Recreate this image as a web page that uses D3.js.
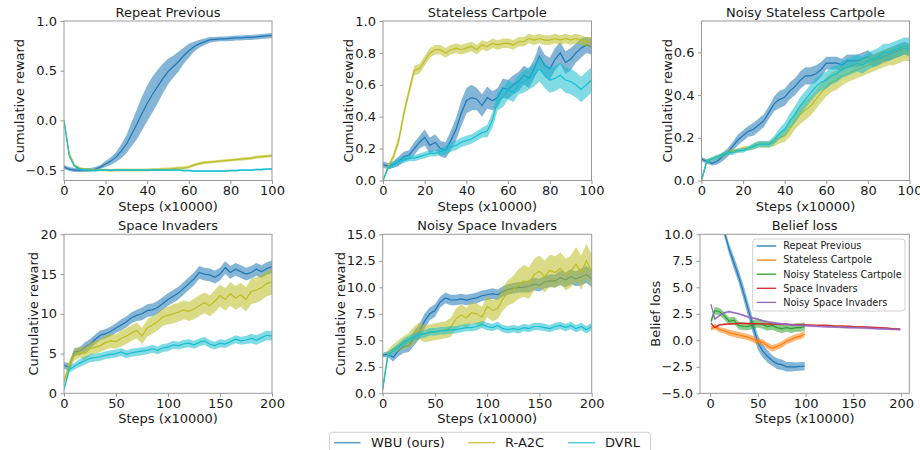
<!DOCTYPE html>
<html><head><meta charset="utf-8">
<script src="https://cdn.jsdelivr.net/npm/d3@7"></script>
<style>body{margin:0;background:#fff}svg{font-family:"DejaVu Sans",sans-serif}</style>
</head><body>
<svg id="c" width="920" height="450"></svg>
<script>
// ---------- data ----------
const methods = ["WBU (ours)", "R-A2C", "DVRL"];
const beliefNames = ["Repeat Previous", "Stateless Cartpole", "Noisy Stateless Cartpole", "Space Invaders", "Noisy Space Invaders"];

const steps100 = [0,2.5,5,7.5,10,12.5,15,17.5,20,22.5,25,27.5,30,32.5,35,37.5,40,42.5,45,47.5,50,52.5,55,57.5,60,62.5,65,67.5,70,72.5,75,77.5,80,82.5,85,87.5,90,92.5,95,97.5,100];
const steps200 = [0,5,10,15,20,25,30,35,40,45,50,55,60,65,70,75,80,85,90,95,100,105,110,115,120,125,130,135,140,145,150,155,160,165,170,175,180,185,190,195,200];
const beliefSteps100 = [1,5,10,15,20,25,30,35,40,45,50,55,60,65,70,75,80,85,90,95,99];
const beliefSteps200 = [1,5,10,15,20,25,30,35,40,45,50,55,60,65,70,75,80,85,90,95,100,105,110,115,120,125,130,135,140,145,150,155,160,165,170,175,180,185,190,195,199];

// Repeat Previous
const rpWBU = [-0.47,-0.49,-0.5,-0.5,-0.5,-0.5,-0.49,-0.47,-0.44,-0.41,-0.37,-0.31,-0.24,-0.14,-0.04,0.07,0.17,0.26,0.34,0.42,0.49,0.54,0.59,0.65,0.70,0.74,0.77,0.79,0.81,0.815,0.82,0.82,0.825,0.83,0.83,0.835,0.835,0.84,0.845,0.85,0.855];
const rpWBUerr = [0.02,0.02,0.02,0.02,0.02,0.02,0.02,0.02,0.03,0.04,0.05,0.07,0.09,0.12,0.15,0.17,0.18,0.18,0.17,0.15,0.13,0.11,0.1,0.08,0.07,0.05,0.04,0.035,0.03,0.025,0.025,0.025,0.025,0.025,0.025,0.025,0.025,0.025,0.025,0.025,0.025];
const rpR = [0.0,-0.33,-0.45,-0.48,-0.49,-0.495,-0.5,-0.5,-0.5,-0.505,-0.5,-0.5,-0.5,-0.5,-0.5,-0.5,-0.5,-0.495,-0.495,-0.49,-0.49,-0.485,-0.48,-0.48,-0.47,-0.45,-0.435,-0.425,-0.42,-0.415,-0.41,-0.405,-0.4,-0.395,-0.39,-0.385,-0.38,-0.37,-0.365,-0.36,-0.355];
const rpRerr = [0.01,0.01,0.01,0.01,0.012,0.012,0.012,0.012,0.015,0.015,0.015,0.015,0.015,0.015,0.015,0.015,0.015,0.015,0.015,0.015,0.015,0.015,0.015,0.015,0.015,0.015,0.015,0.015,0.015,0.015,0.015,0.015,0.015,0.015,0.015,0.015,0.015,0.015,0.015,0.015,0.015];
const rpD = [0.0,-0.36,-0.46,-0.49,-0.5,-0.5,-0.505,-0.5,-0.5,-0.5,-0.5,-0.5,-0.5,-0.5,-0.5,-0.5,-0.5,-0.5,-0.5,-0.5,-0.5,-0.5,-0.5,-0.505,-0.505,-0.51,-0.51,-0.51,-0.51,-0.51,-0.51,-0.51,-0.505,-0.505,-0.5,-0.5,-0.5,-0.495,-0.495,-0.49,-0.49];
const rpDerr = [0.01,0.01,0.01,0.01,0.01,0.01,0.01,0.01,0.01,0.01,0.01,0.01,0.01,0.01,0.01,0.01,0.01,0.01,0.01,0.01,0.01,0.01,0.01,0.01,0.01,0.01,0.01,0.01,0.01,0.01,0.01,0.01,0.01,0.01,0.01,0.01,0.01,0.01,0.01,0.01,0.01];

// Stateless Cartpole
const scWBU = [0.1,0.09,0.1,0.12,0.15,0.16,0.2,0.24,0.27,0.22,0.24,0.2,0.19,0.25,0.32,0.42,0.5,0.52,0.51,0.47,0.52,0.5,0.52,0.58,0.57,0.6,0.62,0.66,0.64,0.7,0.78,0.72,0.7,0.76,0.8,0.74,0.76,0.8,0.83,0.85,0.84];
const scWBUerr = [0.02,0.02,0.02,0.03,0.03,0.03,0.04,0.04,0.05,0.05,0.05,0.05,0.05,0.06,0.07,0.08,0.08,0.08,0.07,0.07,0.07,0.06,0.06,0.06,0.06,0.06,0.06,0.06,0.06,0.06,0.07,0.07,0.07,0.07,0.07,0.07,0.07,0.06,0.06,0.05,0.05];
const scR = [0.0,0.09,0.15,0.25,0.42,0.56,0.69,0.7,0.75,0.8,0.82,0.82,0.8,0.82,0.83,0.82,0.83,0.84,0.82,0.85,0.84,0.86,0.85,0.86,0.86,0.85,0.87,0.87,0.89,0.88,0.89,0.88,0.88,0.89,0.88,0.89,0.88,0.89,0.88,0.87,0.87];
const scRerr = [0.01,0.01,0.02,0.03,0.03,0.03,0.03,0.03,0.03,0.03,0.03,0.03,0.03,0.03,0.03,0.03,0.03,0.03,0.03,0.03,0.03,0.03,0.03,0.03,0.03,0.03,0.03,0.03,0.03,0.03,0.03,0.03,0.03,0.03,0.03,0.03,0.03,0.03,0.03,0.03,0.03];
const scD = [0.0,0.08,0.1,0.12,0.13,0.14,0.14,0.15,0.16,0.17,0.17,0.18,0.19,0.21,0.22,0.24,0.25,0.26,0.28,0.3,0.31,0.38,0.5,0.52,0.57,0.55,0.6,0.62,0.64,0.66,0.7,0.66,0.63,0.64,0.66,0.63,0.62,0.6,0.57,0.6,0.63];
const scDerr = [0.01,0.01,0.02,0.02,0.02,0.02,0.02,0.02,0.02,0.02,0.02,0.02,0.03,0.03,0.03,0.03,0.03,0.03,0.03,0.03,0.04,0.05,0.06,0.06,0.06,0.06,0.06,0.07,0.07,0.07,0.08,0.08,0.08,0.08,0.08,0.08,0.08,0.08,0.08,0.08,0.08];

// Noisy Stateless Cartpole
const nscWBU = [0.1,0.09,0.08,0.09,0.11,0.13,0.16,0.19,0.21,0.23,0.24,0.26,0.28,0.32,0.36,0.38,0.39,0.42,0.44,0.47,0.49,0.49,0.5,0.52,0.55,0.55,0.55,0.54,0.56,0.56,0.56,0.57,0.58,0.56,0.57,0.58,0.59,0.6,0.61,0.62,0.61];
const nscWBUerr = [0.01,0.01,0.01,0.015,0.02,0.02,0.02,0.025,0.025,0.025,0.03,0.03,0.03,0.03,0.035,0.04,0.04,0.04,0.04,0.04,0.04,0.04,0.04,0.035,0.03,0.03,0.03,0.03,0.03,0.03,0.03,0.03,0.03,0.03,0.03,0.03,0.03,0.03,0.03,0.03,0.03];
const nscR = [0.0,0.09,0.1,0.11,0.12,0.13,0.14,0.14,0.15,0.15,0.16,0.17,0.17,0.17,0.18,0.2,0.21,0.24,0.28,0.31,0.33,0.35,0.38,0.41,0.44,0.46,0.47,0.49,0.5,0.51,0.52,0.53,0.54,0.55,0.56,0.57,0.58,0.58,0.59,0.6,0.6];
const nscRerr = [0.01,0.01,0.01,0.01,0.01,0.01,0.01,0.01,0.01,0.01,0.015,0.015,0.015,0.015,0.02,0.025,0.03,0.035,0.04,0.045,0.045,0.045,0.045,0.045,0.045,0.045,0.045,0.045,0.04,0.04,0.04,0.04,0.04,0.04,0.04,0.04,0.04,0.04,0.04,0.04,0.04];
const nscD = [0.0,0.09,0.1,0.11,0.12,0.13,0.13,0.14,0.14,0.15,0.16,0.17,0.17,0.17,0.19,0.22,0.24,0.28,0.31,0.35,0.38,0.41,0.44,0.46,0.47,0.49,0.5,0.52,0.53,0.54,0.55,0.54,0.56,0.57,0.58,0.6,0.6,0.61,0.62,0.63,0.63];
const nscDerr = [0.01,0.01,0.01,0.01,0.01,0.01,0.01,0.01,0.01,0.01,0.015,0.015,0.015,0.015,0.02,0.025,0.03,0.035,0.04,0.04,0.04,0.04,0.04,0.04,0.04,0.04,0.04,0.04,0.04,0.04,0.04,0.04,0.04,0.04,0.04,0.04,0.04,0.04,0.04,0.04,0.04];

// Space Invaders
const siWBU = [3.5,3.3,5.2,5.3,5.8,6.2,6.8,7.3,7.5,7.8,8.2,8.6,9.0,9.5,9.8,10.0,10.4,10.5,10.8,11.3,11.8,12.2,12.6,13.2,13.8,14.4,15.2,15.0,14.9,14.6,15.0,15.8,15.2,15.6,15.3,15.0,15.2,15.6,15.3,15.7,15.9];
const siWBUerr = [0.4,0.5,0.5,0.5,0.6,0.6,0.6,0.6,0.6,0.6,0.6,0.7,0.7,0.7,0.7,0.8,0.8,0.8,0.8,0.8,0.8,0.8,0.8,0.8,0.8,0.8,0.8,0.8,0.8,0.8,0.8,0.8,0.8,0.8,0.8,0.8,0.8,0.8,0.8,0.8,0.8];
const siR = [1.5,3.5,4.8,5.2,5.0,5.6,5.8,6.0,6.4,6.6,6.5,6.9,7.2,7.6,7.9,7.2,8.2,8.6,9.0,9.6,9.8,10.0,10.2,10.5,10.3,10.6,11.0,11.4,11.0,11.6,12.3,11.8,12.5,12.0,12.4,11.8,12.8,13.0,13.3,13.8,14.0];
const siRerr = [0.4,0.6,0.7,0.7,0.8,0.8,0.8,0.8,0.9,0.9,0.9,1.0,1.0,1.0,1.0,1.0,1.1,1.1,1.1,1.1,1.1,1.2,1.2,1.2,1.2,1.3,1.3,1.3,1.3,1.4,1.4,1.4,1.5,1.5,1.5,1.5,1.6,1.6,1.6,1.6,1.6];
const siD = [0.5,3.0,3.4,3.8,4.1,4.4,4.5,4.6,4.8,4.9,5.0,5.2,4.9,5.1,5.2,5.3,5.4,5.6,5.4,5.7,5.8,6.1,6.0,6.2,6.3,6.1,6.4,6.6,6.2,6.0,6.3,6.2,6.5,6.8,6.6,6.7,6.9,6.7,7.0,7.3,7.2];
const siDerr = [0.3,0.4,0.4,0.5,0.5,0.5,0.5,0.5,0.5,0.5,0.5,0.5,0.5,0.5,0.5,0.5,0.5,0.5,0.5,0.5,0.5,0.5,0.5,0.5,0.5,0.5,0.5,0.5,0.5,0.5,0.5,0.5,0.5,0.5,0.5,0.5,0.6,0.6,0.6,0.6,0.6];

// Noisy Space Invaders
const nsiWBU = [3.6,3.7,3.4,4.0,4.4,4.5,5.2,5.8,6.8,7.5,7.8,8.6,9.0,8.8,8.8,8.9,8.8,8.9,9.0,9.2,9.3,9.4,9.3,9.6,9.8,9.9,10.0,10.0,10.1,10.3,10.2,10.5,10.6,10.6,10.9,10.7,11.0,10.8,11.0,11.2,10.8];
const nsiWBUerr = [0.2,0.3,0.4,0.5,0.6,0.6,0.7,0.7,0.7,0.6,0.6,0.5,0.5,0.5,0.5,0.5,0.5,0.5,0.5,0.5,0.5,0.5,0.5,0.5,0.5,0.5,0.5,0.5,0.6,0.6,0.6,0.6,0.6,0.6,0.7,0.7,0.7,0.7,0.8,0.8,0.8];
const nsiR = [0.5,3.8,4.2,4.5,4.8,5.0,5.5,5.9,5.6,5.7,5.8,5.9,6.0,6.2,7.0,7.4,7.1,7.6,7.5,7.2,8.2,7.8,8.0,8.9,9.5,9.8,10.3,10.6,10.4,11.2,11.5,11.0,11.6,11.4,11.8,11.2,11.5,12.2,11.4,12.5,11.5];
const nsiRerr = [0.2,0.3,0.4,0.5,0.6,0.7,0.8,0.8,0.8,0.8,0.8,0.8,0.8,0.9,1.0,1.0,1.0,1.0,1.0,1.0,1.0,1.0,1.0,1.1,1.2,1.3,1.4,1.5,1.5,1.5,1.5,1.5,1.5,1.5,1.5,1.5,1.5,1.6,1.6,1.6,1.6];
const nsiD = [0.3,3.6,4.0,4.4,4.8,5.1,5.3,5.5,5.6,5.8,5.8,5.9,5.9,6.0,6.0,6.1,6.2,6.2,6.3,6.5,6.3,6.2,6.4,6.1,6.0,6.1,6.0,6.2,6.1,6.3,6.3,6.2,6.1,6.3,6.4,6.2,6.4,6.1,6.3,6.0,6.3];
const nsiDerr = [0.2,0.3,0.3,0.3,0.35,0.35,0.35,0.35,0.35,0.35,0.35,0.35,0.35,0.35,0.35,0.35,0.35,0.35,0.35,0.35,0.35,0.35,0.35,0.35,0.35,0.35,0.35,0.35,0.35,0.35,0.35,0.35,0.35,0.35,0.35,0.35,0.35,0.35,0.35,0.35,0.35];

// Belief loss
const blRP = [22,17,13,10.2,8.6,7.3,6.0,4.5,2.9,1.3,-0.2,-1.0,-1.5,-1.9,-2.2,-2.3,-2.5,-2.5,-2.5,-2.45,-2.45];
const blRPerr = [0.4,0.4,0.4,0.4,0.5,0.6,0.6,0.7,0.7,0.7,0.7,0.6,0.6,0.5,0.5,0.5,0.45,0.45,0.4,0.4,0.4];
const blSC = [1.1,1.3,1.0,0.9,0.7,0.6,0.5,0.4,0.3,0.1,-0.1,-0.2,-0.5,-0.75,-0.6,-0.4,-0.1,0.1,0.3,0.4,0.6];
const blSCerr = [0.2,0.25,0.25,0.25,0.3,0.3,0.3,0.3,0.3,0.3,0.3,0.3,0.3,0.3,0.3,0.3,0.3,0.3,0.3,0.3,0.3];
const blNSC = [1.8,2.8,2.7,2.3,1.8,1.9,1.4,1.3,1.3,1.5,1.6,1.5,1.3,1.4,1.2,1.1,1.2,1.1,1.2,1.2,1.3];
const blNSCerr = [0.3,0.35,0.35,0.35,0.35,0.35,0.35,0.35,0.35,0.4,0.4,0.4,0.4,0.4,0.4,0.4,0.4,0.4,0.4,0.4,0.4];
const blSI = [1.6,1.2,1.45,1.5,1.55,1.55,1.6,1.6,1.58,1.57,1.56,1.55,1.54,1.53,1.52,1.51,1.5,1.49,1.48,1.47,1.45,1.44,1.42,1.41,1.4,1.38,1.36,1.35,1.33,1.32,1.3,1.28,1.26,1.24,1.22,1.2,1.17,1.14,1.11,1.08,1.06];
const blSIerr = [0.08,0.08,0.08,0.08,0.08,0.08,0.08,0.08,0.08,0.08,0.08,0.08,0.08,0.08,0.08,0.08,0.08,0.08,0.08,0.08,0.08,0.08,0.08,0.08,0.08,0.08,0.08,0.08,0.08,0.08,0.08,0.08,0.08,0.08,0.08,0.08,0.08,0.08,0.08,0.08,0.08];
const blNSI = [3.4,2.0,2.35,2.6,2.7,2.6,2.5,2.35,2.2,2.1,2.0,1.85,1.75,1.65,1.6,1.55,1.5,1.45,1.42,1.4,1.38,1.35,1.33,1.3,1.28,1.26,1.25,1.24,1.22,1.2,1.2,1.18,1.16,1.14,1.12,1.1,1.08,1.06,1.04,1.02,1.0];
const blNSIerr = [0.1,0.1,0.1,0.1,0.1,0.1,0.1,0.1,0.1,0.1,0.1,0.1,0.1,0.1,0.1,0.1,0.1,0.1,0.1,0.1,0.1,0.1,0.1,0.1,0.1,0.1,0.1,0.1,0.1,0.1,0.1,0.1,0.1,0.1,0.1,0.1,0.1,0.1,0.1,0.1,0.1];

const xTicks100 = [0,20,40,60,80,100];
const xTicks200 = [0,50,100,150,200];

// ---------- styling ----------
const C = {blue:"#1f77b4", olive:"#bcbd22", cyan:"#17becf", orange:"#ff7f0e", green:"#2ca02c", red:"#d62728", purple:"#9467bd"};
const methodColors = [C.blue, C.olive, C.cyan];
const beliefColors = [C.blue, C.orange, C.green, C.red, C.purple];
const spine = "#999";
const fs = 13;

const svg = d3.select("#c");

function S(x, y, e, color) { return {x, y, e, color}; }

const panels = [
  {title:"Repeat Previous", ylabel:"Cumulative reward", left:64, top:21, w:208, h:159.5, xd:[0,100], yd:[-0.605,1.0], xt:xTicks100, yt:[-0.5,0,0.5,1.0], yf:".1f", ylx:19,
   series:[S(steps100,rpWBU,rpWBUerr,C.blue),S(steps100,rpR,rpRerr,C.olive),S(steps100,rpD,rpDerr,C.cyan)]},
  {title:"Stateless Cartpole", ylabel:"Cumulative reward", left:383, top:21, w:208.5, h:159.5, xd:[0,100], yd:[0,1.0], xt:xTicks100, yt:[0,0.2,0.4,0.6,0.8,1.0], yf:".1f", ylx:348,
   series:[S(steps100,scWBU,scWBUerr,C.blue),S(steps100,scR,scRerr,C.olive),S(steps100,scD,scDerr,C.cyan)]},
  {title:"Noisy Stateless Cartpole", ylabel:"Cumulative reward", left:701.5, top:21, w:208, h:159.5, xd:[0,100], yd:[0,0.747], xt:xTicks100, yt:[0,0.2,0.4,0.6], yf:".1f", ylx:667,
   series:[S(steps100,nscWBU,nscWBUerr,C.blue),S(steps100,nscR,nscRerr,C.olive),S(steps100,nscD,nscDerr,C.cyan)]},
  {title:"Space Invaders", ylabel:"Cumulative reward", left:64, top:234.3, w:208, h:159, xd:[0,200], yd:[0,20], xt:xTicks200, yt:[0,5,10,15,20], yf:"d", ylx:33,
   series:[S(steps200,siWBU,siWBUerr,C.blue),S(steps200,siR,siRerr,C.olive),S(steps200,siD,siDerr,C.cyan)]},
  {title:"Noisy Space Invaders", ylabel:"Cumulative reward", left:382.7, top:234.3, w:209, h:159, xd:[0,200], yd:[0,15], xt:xTicks200, yt:[0,2.5,5,7.5,10,12.5,15], yf:".1f", ylx:340,
   series:[S(steps200,nsiWBU,nsiWBUerr,C.blue),S(steps200,nsiR,nsiRerr,C.olive),S(steps200,nsiD,nsiDerr,C.cyan)]},
  {title:"Belief loss", ylabel:"Belief loss", left:700, top:234.3, w:209.3, h:159, xd:[-10.5,208.5], yd:[-5,10], xt:xTicks200, yt:[-5,-2.5,0,2.5,5,7.5,10], yf:".1f", ylx:655,
   series:[S(beliefSteps100,blRP,blRPerr,C.blue),S(beliefSteps100,blSC,blSCerr,C.orange),S(beliefSteps100,blNSC,blNSCerr,C.green),S(beliefSteps200,blSI,blSIerr,C.red),S(beliefSteps200,blNSI,blNSIerr,C.purple)],
   legend:true}
];

panels.forEach((p, i) => {
  const g = svg.append("g").attr("transform", `translate(${p.left},${p.top})`);
  const x = d3.scaleLinear().domain(p.xd).range([0, p.w]);
  const y = d3.scaleLinear().domain(p.yd).range([p.h, 0]);
  const cid = "clip" + i;
  g.append("clipPath").attr("id", cid).append("rect").attr("width", p.w).attr("height", p.h);
  const plot = g.append("g").attr("clip-path", `url(#${cid})`);

  p.series.forEach(s => {
    const pts = s.x.map((xv, k) => [xv, s.y[k], s.e[k]]);
    const area = d3.area().x(d => x(d[0])).y0(d => y(d[1] - d[2])).y1(d => y(d[1] + d[2]));
    const line = d3.line().x(d => x(d[0])).y(d => y(d[1]));
    plot.append("path").attr("d", area(pts)).attr("fill", s.color).attr("fill-opacity", 0.55).attr("stroke", "none");
    plot.append("path").attr("d", line(pts)).attr("fill", "none").attr("stroke", s.color).attr("stroke-width", 1.2);
  });

  // frame
  g.append("rect").attr("width", p.w).attr("height", p.h).attr("fill", "none").attr("stroke", spine).attr("stroke-width", 1);

  const xa = g.append("g").attr("transform", `translate(0,${p.h})`)
    .call(d3.axisBottom(x).tickValues(p.xt).tickFormat(d3.format("d")).tickSize(3.5).tickPadding(2));
  const ya = g.append("g")
    .call(d3.axisLeft(y).tickValues(p.yt).tickFormat(d3.format(p.yf)).tickSize(3.5).tickPadding(3.5));
  [xa, ya].forEach(a => {
    a.select(".domain").remove();
    a.selectAll("line").attr("stroke", spine);
    a.selectAll("text").attr("font-size", fs).attr("fill", "#1a1a1a").attr("font-family", "DejaVu Sans");
  });

  g.append("text").attr("x", p.w / 2).attr("y", -4.5).attr("text-anchor", "middle")
    .attr("font-size", fs).attr("fill", "#1a1a1a").text(p.title);
  g.append("text").attr("x", p.w / 2).attr("y", p.h + 30).attr("text-anchor", "middle")
    .attr("font-size", fs).attr("fill", "#1a1a1a").text("Steps (x10000)");
  svg.append("text").attr("transform", `translate(${p.ylx},${p.top + p.h / 2}) rotate(-90)`)
    .attr("dy", "0.35em").attr("text-anchor", "middle").attr("font-size", fs).attr("fill", "#1a1a1a").text(p.ylabel);

  if (p.legend) {
    const lg = svg.append("g").attr("transform", "translate(752.7,239)");
    lg.append("rect").attr("width", 152.3).attr("height", 72).attr("rx", 3).attr("fill", "#fff").attr("fill-opacity", 0.8).attr("stroke", "#d0d0d0");
    beliefNames.forEach((n, k) => {
      const yy = 7 + k * 14.1;
      lg.append("line").attr("x1", 4).attr("x2", 23.5).attr("y1", yy).attr("y2", yy).attr("stroke", beliefColors[k]).attr("stroke-width", 1.3);
      lg.append("text").attr("x", 30.5).attr("y", yy).attr("dy", "0.35em").attr("font-size", 9.7).attr("fill", "#1a1a1a").text(n);
    });
  }
});

// bottom legend
const bl = svg.append("g").attr("transform", "translate(329.5,432.3)");
bl.append("rect").attr("width", 321).attr("height", 28).attr("rx", 3).attr("fill", "#fff").attr("stroke", "#d0d0d0");
const legX = [[4.5, 31, 41.5], [138.5, 165.5, 175.5], [238.5, 265.5, 275.5]];
methods.forEach((m, k) => {
  bl.append("line").attr("x1", legX[k][0]).attr("x2", legX[k][1]).attr("y1", 10.4).attr("y2", 10.4)
    .attr("stroke", methodColors[k]).attr("stroke-opacity", 0.75).attr("stroke-width", 1.5);
  bl.append("text").attr("x", legX[k][2]).attr("y", 10.4).attr("dy", "0.35em").attr("font-size", fs).attr("fill", "#1a1a1a").text(m);
});
</script>
</body></html>
